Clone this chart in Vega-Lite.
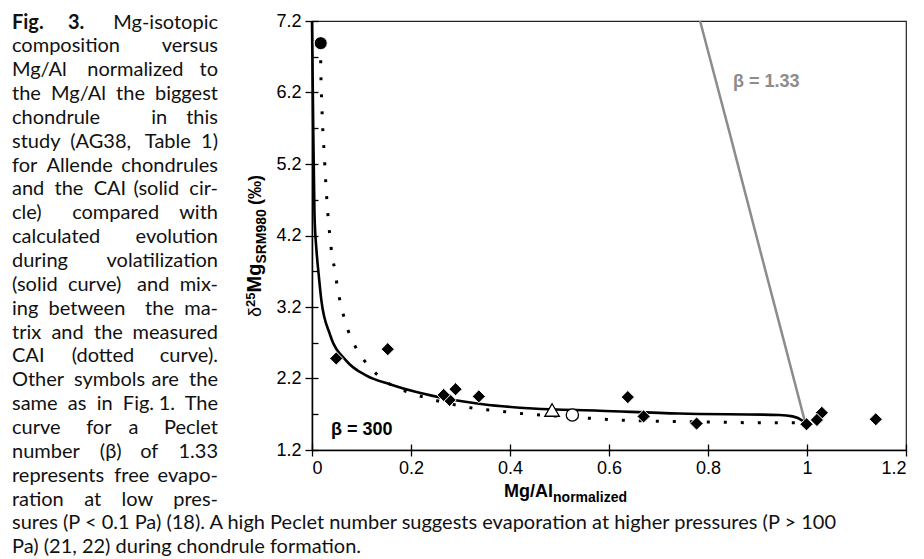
{
  "$schema": "https://vega.github.io/schema/vega-lite/v6.json",
  "width": 594,
  "height": 429,
  "autosize": {"type": "none"},
  "padding": {"left": 312, "top": 21, "right": 18, "bottom": 109},
  "background": "white",
  "config": {
    "view": {"stroke": "#222", "strokeWidth": 1.2},
    "axis": {"domainColor": "#000", "tickColor": "#000", "labelColor": "#000", "labelFont": "Liberation Sans", "labelFontSize": 18, "grid": false, "domainWidth": 1.5, "tickWidth": 1.3}
  },
  "datasets": {
    "volatilization": [
      {"x": 0.0, "y": 7.2}, {"x": 0.002, "y": 6.0}, {"x": 0.005, "y": 4.5}, {"x": 0.009, "y": 4.0},
      {"x": 0.014, "y": 3.62}, {"x": 0.019, "y": 3.29}, {"x": 0.036, "y": 2.82}, {"x": 0.069, "y": 2.45},
      {"x": 0.11, "y": 2.24}, {"x": 0.157, "y": 2.12}, {"x": 0.211, "y": 2.01}, {"x": 0.278, "y": 1.91},
      {"x": 0.345, "y": 1.84}, {"x": 0.446, "y": 1.78}, {"x": 0.581, "y": 1.75}, {"x": 0.742, "y": 1.71},
      {"x": 0.944, "y": 1.69}, {"x": 0.971, "y": 1.67}, {"x": 0.991, "y": 1.61}, {"x": 0.998, "y": 1.57}
    ],
    "free": [
      {"x": 0.784, "y": 7.2}, {"x": 0.845, "y": 5.6}, {"x": 0.905, "y": 4.0}, {"x": 0.955, "y": 2.68},
      {"x": 0.995, "y": 1.62}
    ],
    "mixing": [
      {"x": 0.0176, "y": 6.89}, {"x": 0.0176, "y": 6.62}, {"x": 0.02, "y": 6.0}, {"x": 0.025, "y": 5.3},
      {"x": 0.031, "y": 4.6}, {"x": 0.036, "y": 4.2}, {"x": 0.040, "y": 3.95}, {"x": 0.046, "y": 3.72},
      {"x": 0.051, "y": 3.49}, {"x": 0.058, "y": 3.24}, {"x": 0.067, "y": 3.0}, {"x": 0.078, "y": 2.78},
      {"x": 0.094, "y": 2.57}, {"x": 0.115, "y": 2.37}, {"x": 0.141, "y": 2.2}, {"x": 0.202, "y": 1.99},
      {"x": 0.236, "y": 1.92}, {"x": 0.305, "y": 1.81}, {"x": 0.339, "y": 1.77}, {"x": 0.373, "y": 1.75},
      {"x": 0.408, "y": 1.72}, {"x": 0.443, "y": 1.7}, {"x": 0.547, "y": 1.65}, {"x": 0.618, "y": 1.62},
      {"x": 0.722, "y": 1.6}, {"x": 0.827, "y": 1.59}, {"x": 0.897, "y": 1.58}, {"x": 0.99, "y": 1.58}
    ],
    "chondrules": [
      {"x": 0.049, "y": 2.48}, {"x": 0.153, "y": 2.61}, {"x": 0.278, "y": 1.9}, {"x": 0.266, "y": 1.97},
      {"x": 0.29, "y": 2.05}, {"x": 0.337, "y": 1.95}, {"x": 0.638, "y": 1.94}, {"x": 0.67, "y": 1.67},
      {"x": 0.777, "y": 1.57}, {"x": 1.03, "y": 1.72}, {"x": 1.02, "y": 1.62}, {"x": 0.999, "y": 1.56},
      {"x": 1.139, "y": 1.63}
    ],
    "others": [
      {"kind": "triangle", "x": 0.485, "y": 1.76},
      {"kind": "circle", "x": 0.526, "y": 1.69}
    ],
    "cai": [{"x": 0.0176, "y": 6.89}],
    "labels": [
      {"key": "b300", "text": "β = 300"},
      {"key": "b133", "text": "β = 1.33"},
      {"key": "xmain", "text": "Mg/Al"},
      {"key": "xsub", "text": "normalized"},
      {"key": "yd", "text": "δ"},
      {"key": "y25", "text": "25"},
      {"key": "ymg", "text": "Mg"},
      {"key": "ysub", "text": "SRM980"},
      {"key": "yunit", "text": "(‰)"}
    ],
    "caption": [
      {"col": "bold", "lines": ["Fig.\u00a0\u00a0\u00a0\u00a0\u00a03."]},
      {"col": "left", "lines": [
        "\u00a0", "composition", "Mg/Al\u00a0\u00a0\u00a0\u00a0normalized", "the\u00a0\u00a0Mg/Al\u00a0\u00a0the", "chondrule\u00a0\u00a0\u00a0\u00a0\u00a0\u00a0\u00a0\u00a0\u00a0\u00a0in",
        "study\u00a0\u00a0(AG38,", "for\u00a0\u00a0Allende", "and\u00a0\u00a0the\u00a0\u00a0CAI", "cle)",
        "calculated", "during", "(solid\u00a0\u00a0curve)", "ing\u00a0\u00a0between",
        "trix\u00a0\u00a0and\u00a0\u00a0the", "CAI", "Other\u00a0\u00a0symbols", "same\u00a0\u00a0as\u00a0\u00a0in\u00a0\u00a0Fig.",
        "curve\u00a0\u00a0\u00a0\u00a0\u00a0for", "number\u00a0\u00a0\u00a0\u00a0(β)", "represents\u00a0\u00a0free", "ration\u00a0\u00a0\u00a0\u00a0at",
        "sures (P < 0.1 Pa) (18). A high Peclet number suggests evaporation at higher pressures (P > 100",
        "Pa) (21, 22) during chondrule formation."
      ]},
      {"col": "right", "lines": [
        "Mg-isotopic", "versus", "to", "biggest", "this", "Table\u00a0\u00a01)", "chondrules", "(solid\u00a0\u00a0cir-", "compared\u00a0\u00a0\u00a0\u00a0with",
        "evolution", "volatilization", "and\u00a0\u00a0mix-", "the\u00a0\u00a0ma-", "measured", "(dotted\u00a0\u00a0\u00a0\u00a0\u00a0curve).", "are\u00a0\u00a0the", "1.\u00a0\u00a0The",
        "a\u00a0\u00a0\u00a0\u00a0\u00a0Peclet", "of\u00a0\u00a0\u00a0\u00a01.33", "evapo-", "low\u00a0\u00a0\u00a0\u00a0pres-"
      ]}
    ]
  },
  "layer": [
    {
      "layer": [
        {
          "data": {"name": "mixing"},
          "mark": {"type": "line", "color": "#000", "strokeWidth": 3, "strokeDash": [3, 14], "strokeCap": "butt", "interpolate": "monotone"},
          "encoding": {
            "x": {"field": "x", "type": "quantitative", "title": null, "scale": {"domain": [0, 1.2], "nice": false, "zero": false},
              "axis": {"values": [0, 0.2, 0.4, 0.6, 0.8, 1, 1.2], "labelExpr": "'' + datum.value", "tickSize": 6, "labelPadding": 3, "title": null}},
            "y": {"field": "y", "type": "quantitative", "title": null, "scale": {"domain": [1.2, 7.2], "nice": false, "zero": false},
              "axis": {"values": [1.2, 2.2, 3.2, 4.2, 5.2, 6.2, 7.2], "format": ".1f", "tickSize": 7, "labelPadding": 4, "title": null}}
          }
        },
        {
          "data": {"name": "volatilization"},
          "mark": {"type": "line", "color": "#000", "strokeWidth": 2.6, "interpolate": "monotone"},
          "encoding": {
            "x": {"field": "x", "type": "quantitative", "title": null},
            "y": {"field": "y", "type": "quantitative", "title": null}
          }
        },
        {
          "data": {"name": "chondrules"},
          "mark": {"type": "point", "shape": "diamond", "filled": true, "color": "#000", "stroke": "#fff", "strokeWidth": 1, "size": 175, "opacity": 1},
          "encoding": {
            "x": {"field": "x", "type": "quantitative", "title": null},
            "y": {"field": "y", "type": "quantitative", "title": null}
          }
        },
        {
          "data": {"name": "others"},
          "transform": [{"filter": "datum.kind == 'triangle'"}],
          "mark": {"type": "point", "shape": "triangle-up", "filled": true, "fill": "#fff", "stroke": "#000", "strokeWidth": 1.3, "size": 210, "opacity": 1},
          "encoding": {
            "x": {"field": "x", "type": "quantitative", "title": null},
            "y": {"field": "y", "type": "quantitative", "title": null}
          }
        },
        {
          "data": {"name": "others"},
          "transform": [{"filter": "datum.kind == 'circle'"}],
          "mark": {"type": "point", "shape": "circle", "filled": true, "fill": "#fff", "stroke": "#000", "strokeWidth": 1.3, "size": 150, "opacity": 1},
          "encoding": {
            "x": {"field": "x", "type": "quantitative", "title": null},
            "y": {"field": "y", "type": "quantitative", "title": null}
          }
        },
        {
          "data": {"name": "cai"},
          "mark": {"type": "point", "shape": "circle", "filled": true, "fill": "#000", "stroke": "#fff", "strokeWidth": 1, "size": 170, "opacity": 1},
          "encoding": {
            "x": {"field": "x", "type": "quantitative", "title": null},
            "y": {"field": "y", "type": "quantitative", "title": null}
          }
        },
        {
          "data": {"name": "labels"},
          "transform": [{"filter": "datum.key == 'b300'"}],
          "mark": {"type": "text", "font": "Liberation Sans", "fontWeight": "bold", "fontSize": 18, "align": "left", "baseline": "alphabetic", "color": "#000"},
          "encoding": {"x": {"datum": 0.0384}, "y": {"datum": 1.41}, "text": {"field": "text"}}
        },
        {
          "data": {"name": "labels"},
          "transform": [{"filter": "datum.key == 'b133'"}],
          "mark": {"type": "text", "font": "Liberation Sans", "fontWeight": "bold", "fontSize": 18, "align": "left", "baseline": "alphabetic", "color": "#8c8c8c"},
          "encoding": {"x": {"datum": 0.8505}, "y": {"datum": 6.277}, "text": {"field": "text"}}
        },
        {
          "data": {"name": "labels"},
          "transform": [{"filter": "datum.key == 'xmain'"}],
          "mark": {"type": "text", "font": "Liberation Sans Narrow, Liberation Sans", "fontWeight": "bold", "fontSize": 18, "align": "right", "baseline": "alphabetic", "color": "#000"},
          "encoding": {"x": {"datum": 0.487}, "y": {"datum": 0.543}, "text": {"field": "text"}}
        },
        {
          "data": {"name": "labels"},
          "transform": [{"filter": "datum.key == 'xsub'"}],
          "mark": {"type": "text", "font": "Liberation Sans", "fontWeight": "bold", "fontSize": 14, "align": "left", "baseline": "alphabetic", "color": "#000"},
          "encoding": {"x": {"datum": 0.487}, "y": {"datum": 0.473}, "text": {"field": "text"}}
        },
        {
          "data": {"name": "labels"},
          "transform": [{"filter": "datum.key == 'yd'"}],
          "mark": {"type": "text", "font": "Liberation Sans", "fontSize": 18, "angle": 270, "align": "left", "baseline": "alphabetic", "color": "#000"},
          "encoding": {"x": {"datum": -0.103}, "y": {"datum": 3.06}, "text": {"field": "text"}}
        },
        {
          "data": {"name": "labels"},
          "transform": [{"filter": "datum.key == 'y25'"}],
          "mark": {"type": "text", "font": "Liberation Sans", "fontWeight": "bold", "fontSize": 13, "angle": 270, "align": "left", "baseline": "alphabetic", "color": "#000"},
          "encoding": {"x": {"datum": -0.116}, "y": {"datum": 3.2}, "text": {"field": "text"}}
        },
        {
          "data": {"name": "labels"},
          "transform": [{"filter": "datum.key == 'ymg'"}],
          "mark": {"type": "text", "font": "Liberation Sans", "fontWeight": "bold", "fontSize": 20, "angle": 270, "align": "left", "baseline": "alphabetic", "color": "#000"},
          "encoding": {"x": {"datum": -0.103}, "y": {"datum": 3.403}, "text": {"field": "text"}}
        },
        {
          "data": {"name": "labels"},
          "transform": [{"filter": "datum.key == 'ysub'"}],
          "mark": {"type": "text", "font": "Liberation Sans", "fontWeight": "bold", "fontSize": 14, "angle": 270, "align": "left", "baseline": "alphabetic", "color": "#000"},
          "encoding": {"x": {"datum": -0.092}, "y": {"datum": 3.807}, "text": {"field": "text"}}
        },
        {
          "data": {"name": "labels"},
          "transform": [{"filter": "datum.key == 'yunit'"}],
          "mark": {"type": "text", "font": "Liberation Sans", "fontWeight": "bold", "fontSize": 18, "angle": 270, "align": "left", "baseline": "alphabetic", "color": "#000"},
          "encoding": {"x": {"datum": -0.103}, "y": {"datum": 4.627}, "text": {"field": "text"}}
        },
        {
          "data": {"name": "caption"},
          "transform": [{"filter": "datum.col == 'bold'"}],
          "mark": {"type": "text", "font": "Lato", "fontWeight": "bold", "fontSize": 20, "lineHeight": 23.85, "align": "left", "baseline": "alphabetic", "color": "#111"},
          "encoding": {"x": {"datum": -0.6061}, "y": {"datum": 7.095}, "text": {"field": "lines"}}
        },
        {
          "data": {"name": "caption"},
          "transform": [{"filter": "datum.col == 'left'"}],
          "mark": {"type": "text", "font": "Lato", "fontSize": 20, "lineHeight": 23.85, "align": "left", "baseline": "alphabetic", "color": "#111"},
          "encoding": {"x": {"datum": -0.6061}, "y": {"datum": 7.095}, "text": {"field": "lines"}}
        },
        {
          "data": {"name": "caption"},
          "transform": [{"filter": "datum.col == 'right'"}],
          "mark": {"type": "text", "font": "Lato", "fontSize": 20, "lineHeight": 23.85, "align": "right", "baseline": "alphabetic", "color": "#111"},
          "encoding": {"x": {"datum": -0.1899}, "y": {"datum": 7.095}, "text": {"field": "lines"}}
        }
      ]
    },
    {
      "data": {"name": "free"},
      "mark": {"type": "line", "color": "#8c8c8c", "strokeWidth": 2.5, "interpolate": "monotone"},
      "encoding": {
        "x": {"field": "x", "type": "quantitative", "title": null,
          "axis": {"orient": "bottom", "values": [0, 0.2, 0.4, 0.6, 0.8, 1, 1.2], "tickSize": -6, "labels": false, "domain": false, "title": null}},
        "y": {"field": "y", "type": "quantitative", "title": null,
          "axis": {"orient": "left", "values": [1.2, 1.7, 2.2, 2.7, 3.2, 3.7, 4.2, 4.7, 5.2, 5.7, 6.2, 6.7, 7.2], "tickSize": -6, "labels": false, "domain": false, "title": null}}
      }
    }
  ],
  "resolve": {"axis": {"x": "independent", "y": "independent"}}
}
